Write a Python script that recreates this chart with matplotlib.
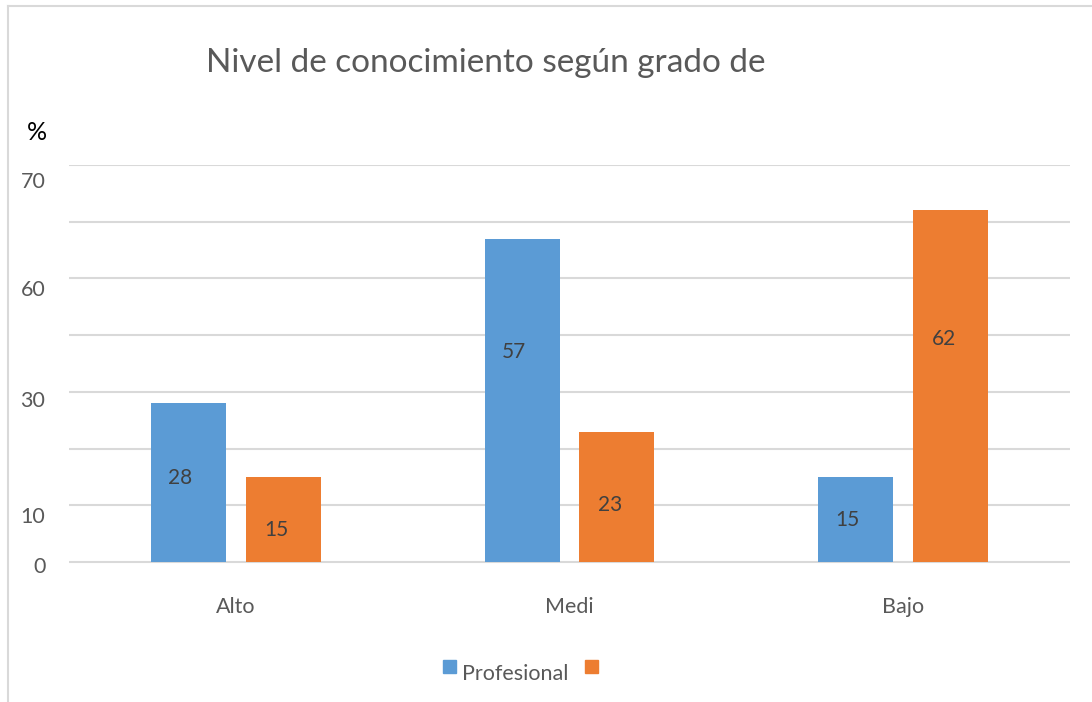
import matplotlib
matplotlib.use("Agg")
import matplotlib.pyplot as plt
from matplotlib.patches import Rectangle
from matplotlib.lines import Line2D
import numpy as np

plt.rcParams['font.family'] = ['Lato', 'DejaVu Sans']

# ---- data ----
categories = ["Alto", "Medi", "Bajo"]
profesional = [28, 57, 15]
otro = [15, 23, 62]
series_names = ["Profesional", ""]
# data-label heights (as placed in the original)
prof_label_y = [14.9, 37.0, 7.4]
otro_label_y = [5.7, 10.0, 39.3]
# y tick labels as they appear in the original
ytick_labels = ["0", "10", "30", "60", "70"]
ytick_pos = [-0.5, 8.4, 28.7, 48.3, 67.3]
title = "Nivel de conocimiento según grado de"

BLUE = "#5B9BD5"
ORANGE = "#ED7D31"
GRID = "#D9D9D9"
TXT = "#595959"
LBL = "#404040"

W, H = 1092, 702
fig = plt.figure(figsize=(W / 100, H / 100), dpi=100)
ax = fig.add_axes([69 / W, 1 - 565 / H, 1001 / W, 400 / H])

x = np.arange(len(categories))
bw = 0.225
off = 0.142
ax.bar(x - off, profesional, bw, color=BLUE, zorder=3)
ax.bar(x + off, otro, bw, color=ORANGE, zorder=3)

for xi, v, ly in zip(x, profesional, prof_label_y):
    ax.annotate(str(v), (xi - off, ly), xytext=(-6, 0), textcoords="offset points",
                ha="center", va="center", fontsize=15, color=LBL, zorder=4)
for xi, v, ly in zip(x, otro, otro_label_y):
    ax.annotate(str(v), (xi + off, ly), xytext=(-5, 0), textcoords="offset points",
                ha="center", va="center", fontsize=15, color=LBL, zorder=4)

ax.set_xlim(-0.5, 2.5)
ax.set_ylim(0, 70)
ax.set_yticks(ytick_pos, ytick_labels)
ax.set_yticks(np.arange(0, 71, 10), minor=True)
ax.tick_params(axis="y", which="both", length=0, labelsize=15.5, labelcolor=TXT, pad=17)
ax.grid(axis="y", which="minor", color=GRID, linewidth=1.5, zorder=0)
ax.grid(axis="y", which="major", visible=False)
ax.set_xticks(x, categories)
ax.tick_params(axis="x", length=0, labelsize=15.5, labelcolor=TXT, pad=23)
for s in ax.spines.values():
    s.set_visible(False)

# title and axis unit
fig.text(485.5 / W, 1 - 71.7 / H, title, ha="center", va="baseline",
         fontsize=24, color=TXT)
fig.text(37 / W, 1 - 133 / H, "%", ha="center", va="center", fontsize=18, color="black")

# legend
fig.add_artist(Rectangle((443 / W, 1 - 672.5 / H), 13 / W, 13 / H,
                         transform=fig.transFigure, color=BLUE))
fig.add_artist(Rectangle((585 / W, 1 - 672.5 / H), 13 / W, 13 / H,
                         transform=fig.transFigure, color=ORANGE))
fig.text(462 / W, 1 - 680 / H, series_names[0], ha="left", va="baseline",
         fontsize=15.5, color=TXT)

# chart border (top and left)
fig.add_artist(Line2D([8 / W, 8 / W], [0, 1 - 6 / H], transform=fig.transFigure,
                      color=GRID, linewidth=1.5))
fig.add_artist(Line2D([8 / W, 1], [1 - 6 / H, 1 - 6 / H], transform=fig.transFigure,
                      color=GRID, linewidth=1.5))

fig.savefig("out.png", dpi=100)
